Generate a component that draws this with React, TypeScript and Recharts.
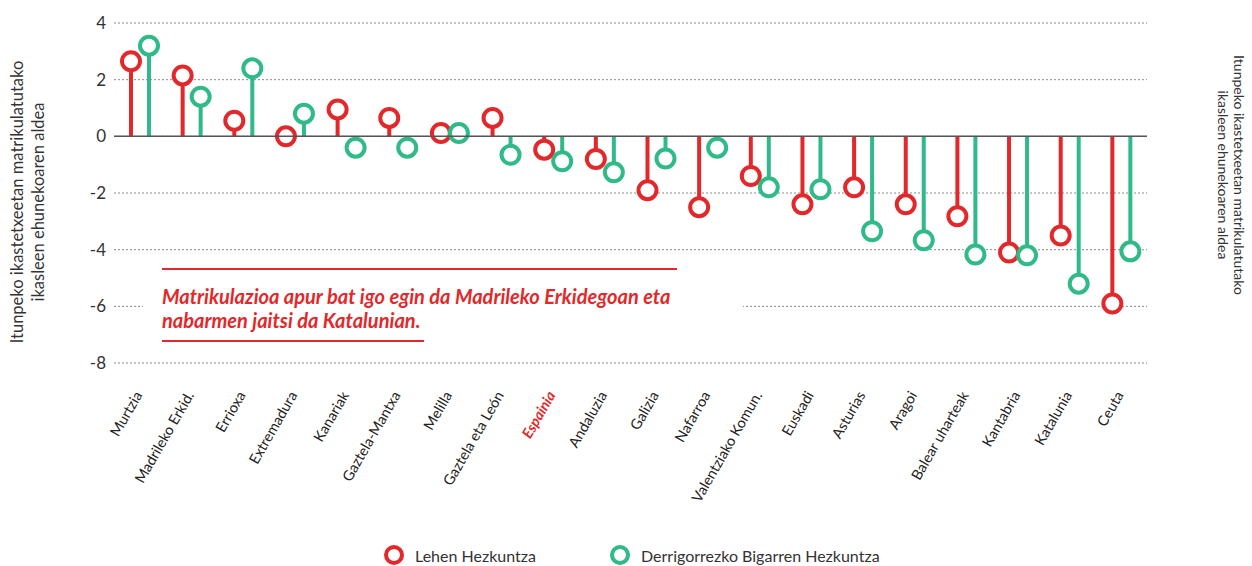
import {
  Bar,
  CartesianGrid,
  ComposedChart,
  ReferenceLine,
  XAxis,
  YAxis,
} from 'recharts'

const regions = [
  'Murtzia',
  'Madrileko Erkid.',
  'Errioxa',
  'Extremadura',
  'Kanariak',
  'Gaztela-Mantxa',
  'Melilla',
  'Gaztela eta León',
  'Espainia',
  'Andaluzia',
  'Galizia',
  'Nafarroa',
  'Valentziako Komun.',
  'Euskadi',
  'Asturias',
  'Aragoi',
  'Balear uharteak',
  'Kantabria',
  'Katalunia',
  'Ceuta',
]

const lehen = [
  2.65, 2.15, 0.55, 0.0, 0.95, 0.65, 0.12, 0.65, -0.47, -0.8, -1.9, -2.5, -1.4,
  -2.4, -1.8, -2.4, -2.82, -4.1, -3.5, -5.9,
]

const dbh = [
  3.2, 1.4, 2.4, 0.8, -0.4, -0.4, 0.12, -0.65, -0.88, -1.27, -0.78, -0.4, -1.8,
  -1.87, -3.35, -3.67, -4.17, -4.2, -5.2, -4.06,
]

const yTicks = [4, 2, 0, -2, -4, -6, -8]

const RED = '#e2282a'
const GREEN = '#2fba88'
const FONT = 'Lato, "Open Sans", sans-serif'

const data = regions.map((region, i) => ({
  region,
  lehen: lehen[i],
  dbh: dbh[i],
}))

function lollipop(color: string) {
  return (props: any) => {
    const { x, y, width, height, value } = props
    const v = Array.isArray(value) ? value[1] - value[0] : value
    const cx = x + width / 2
    const top = Math.min(y, y + height)
    const bottom = Math.max(y, y + height)
    const cy = v >= 0 ? top : bottom
    const base = v >= 0 ? bottom : top
    return (
      <g>
        <line x1={cx} x2={cx} y1={base} y2={cy} stroke={color} strokeWidth={4} />
        <circle cx={cx} cy={cy} r={9} fill="#fff" stroke={color} strokeWidth={4} />
      </g>
    )
  }
}

function RegionTick(props: any) {
  const { x, y, payload } = props
  const spain = payload.value === 'Espainia'
  const ax = x + 3
  const ay = y + 26
  return (
    <text
      x={ax}
      y={ay}
      textAnchor="end"
      transform={`rotate(-60 ${ax} ${ay})`}
      fontFamily={FONT}
      fontSize={14.5}
      fill={spain ? RED : '#222'}
      fontWeight={spain ? 700 : 400}
      fontStyle={spain ? 'italic' : 'normal'}
    >
      {payload.value}
    </text>
  )
}

const tickStyle = { fontFamily: FONT, fontSize: 17, fill: '#333' }

export default function App() {
  return (
    <div
      style={{
        position: 'absolute',
        left: 0,
        top: 0,
        width: 1252,
        height: 566,
        background: '#fff',
        fontFamily: FONT,
      }}
    >
      <ComposedChart
        width={1252}
        height={566}
        data={data}
        margin={{ top: 23, right: 0, bottom: 53, left: 0 }}
        barGap={0}
      >
        <CartesianGrid
          vertical={false}
          stroke="#8a8a8a"
          strokeDasharray="2 2"
          yAxisId="left"
        />
        <XAxis
          dataKey="region"
          interval={0}
          tick={<RegionTick />}
          tickLine={false}
          axisLine={false}
          height={150}
          tickMargin={0}
        />
        <YAxis
          yAxisId="left"
          domain={[-8, 4]}
          ticks={yTicks}
          width={114}
          tickLine={false}
          axisLine={false}
          tickSize={0}
          tickMargin={8}
          tick={tickStyle}
        />
        <YAxis
          yAxisId="right"
          orientation="right"
          domain={[-8, 4]}
          ticks={yTicks}
          width={105}
          tickLine={false}
          axisLine={false}
          tickSize={0}
          tickMargin={6}
          tick={{ ...tickStyle, textAnchor: 'start' }}
        />
        <ReferenceLine yAxisId="left" y={0} stroke="#555" strokeWidth={1.5} />
        <Bar
          yAxisId="left"
          dataKey="lehen"
          name="Lehen Hezkuntza"
          barSize={18}
          shape={lollipop(RED)}
          isAnimationActive={false}
        />
        <Bar
          yAxisId="left"
          dataKey="dbh"
          name="Derrigorrezko Bigarren Hezkuntza"
          barSize={18}
          shape={lollipop(GREEN)}
          isAnimationActive={false}
        />
      </ComposedChart>

      <div
        style={{
          position: 'absolute',
          left: 28,
          top: 202,
          transform: 'translate(-50%, -50%) rotate(-90deg)',
          whiteSpace: 'nowrap',
          textAlign: 'center',
          fontSize: 16.5,
          lineHeight: '21px',
          color: '#333',
        }}
      >
        Itunpeko ikastetxeetan matrikulatutako
        <br />
        ikasleen ehunekoaren aldea
      </div>
      <div
        style={{
          position: 'absolute',
          left: 1231,
          top: 175,
          transform: 'translate(-50%, -50%) rotate(90deg)',
          whiteSpace: 'nowrap',
          textAlign: 'center',
          fontSize: 14,
          lineHeight: '16px',
          color: '#333',
        }}
      >
        Itunpeko ikastetxeetan matrikulatutako
        <br />
        ikasleen ehunekoaren aldea
      </div>

      <div
        style={{
          position: 'absolute',
          left: 143,
          top: 268,
          width: 600,
          height: 76,
          background: '#fff',
        }}
      >
        <div
          style={{
            position: 'absolute',
            left: 19,
            top: 0,
            width: 515,
            borderTop: `2px solid ${RED}`,
          }}
        />
        <div
          style={{
            position: 'absolute',
            left: 19,
            top: 16,
            color: RED,
            fontWeight: 700,
            fontStyle: 'italic',
            fontSize: 20,
            lineHeight: '24px',
            whiteSpace: 'nowrap',
          }}
        >
          Matrikulazioa apur bat igo egin da Madrileko Erkidegoan eta
          <br />
          nabarmen jaitsi da Katalunian.
        </div>
        <div
          style={{
            position: 'absolute',
            left: 19,
            top: 72,
            width: 262,
            borderTop: `2px solid ${RED}`,
          }}
        />
      </div>

      <div
        style={{
          position: 'absolute',
          top: 544,
          left: 383,
          display: 'flex',
          alignItems: 'center',
          fontSize: 16,
          color: '#333',
        }}
      >
        <svg width={22} height={22}>
          <circle cx={11} cy={11} r={8} fill="#fff" stroke={RED} strokeWidth={4} />
        </svg>
        <span style={{ marginLeft: 10 }}>Lehen Hezkuntza</span>
      </div>
      <div
        style={{
          position: 'absolute',
          top: 544,
          left: 609,
          display: 'flex',
          alignItems: 'center',
          fontSize: 16,
          color: '#333',
        }}
      >
        <svg width={22} height={22}>
          <circle cx={11} cy={11} r={8} fill="#fff" stroke={GREEN} strokeWidth={4} />
        </svg>
        <span style={{ marginLeft: 10 }}>Derrigorrezko Bigarren Hezkuntza</span>
      </div>
    </div>
  )
}
